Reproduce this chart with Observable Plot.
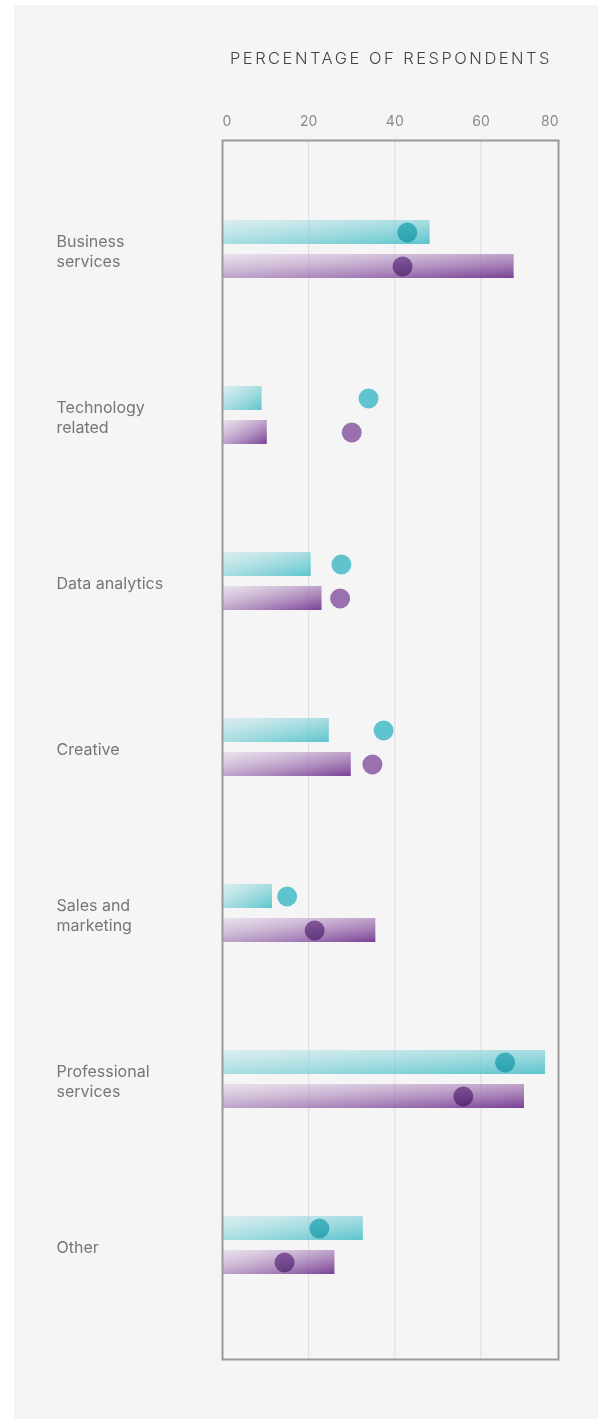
<!DOCTYPE html>
<html>
<head>
<meta charset="utf-8">
<script src="https://cdn.jsdelivr.net/npm/d3@7"></script>
<script src="https://cdn.jsdelivr.net/npm/@observablehq/plot@0.6"></script>
<style>
  html, body { margin: 0; padding: 0; background: #ffffff; }
  #panel { position: absolute; left: 14px; top: 5px; width: 584px; height: 1414px; background: #f5f5f5; }
  #title { position: absolute; left: 200px; width: 354px; top: 43px; text-align: center;
           font-family: "Inter", "Roboto", sans-serif; font-weight: 300; font-size: 16.5px;
           letter-spacing: 2.5px; color: #444; }
  #chart { position: absolute; left: 0; top: 73px; }
</style>
</head>
<body>
<div id="panel">
  <div id="title">PERCENTAGE OF RESPONDENTS</div>
  <div id="chart"></div>
</div>
<script>
const categories = ["Business services", "Technology related", "Data analytics", "Creative", "Sales and marketing", "Professional services", "Other"];
const categoryLabels = ["Business\nservices", "Technology\nrelated", "Data analytics", "Creative", "Sales and\nmarketing", "Professional\nservices", "Other"];
const tealBars   = [48.2, 9.2, 20.6, 24.8, 11.6, 75.0, 32.7];
const tealDots   = [42.9, 33.9, 27.6, 37.4, 15.0, 65.6, 22.5];
const purpleBars = [67.7, 10.4, 23.1, 29.9, 35.6, 70.1, 26.1];
const purpleDots = [41.8, 30.0, 27.3, 34.8, 21.4, 55.9, 14.4];
const tickValues = [0, 20, 40, 60, 80];
const gridValues = [20, 40, 60];
const xMax = 78;

const rows = categories.map((c, i) => ({
  category: c, label: categoryLabels[i],
  tealBar: tealBars[i], tealDot: tealDots[i],
  purpleBar: purpleBars[i], purpleDot: purpleDots[i]
}));

const font = "Inter, Roboto, sans-serif";
const tickX = d => Math.min(d, xMax);

const svg = Plot.plot({
  width: 584,
  height: 1332,
  marginTop: 62,
  marginBottom: 51,
  marginLeft: 208,
  marginRight: 40,
  style: { background: "transparent", fontFamily: font, overflow: "visible" },
  x: { domain: [0, xMax], axis: null },
  y: { domain: categories, type: "band", padding: 0, insetTop: 24, insetBottom: 28, axis: null },
  marks: [
    Plot.ruleX(gridValues, { stroke: "#dcdcdc", strokeWidth: 1 }),
    Plot.barX(rows, { x: "tealBar", y: "category", fill: "url(#tealGrad)", insetTop: 53, insetBottom: 89 }),
    Plot.barX(rows, { x: "purpleBar", y: "category", fill: "url(#purpleGrad)", insetTop: 87, insetBottom: 55 }),
    Plot.dot(rows, { x: "tealDot", y: "category", dy: -18, r: 10, fill: "#52c6d1", fillOpacity: 0.9, mixBlendMode: "multiply" }),
    Plot.dot(rows, { x: "purpleDot", y: "category", dy: 16, r: 10, fill: "#9163ab", fillOpacity: 0.88, mixBlendMode: "multiply" }),
    Plot.frame({ stroke: "#9a9a9a", strokeWidth: 2 }),
    Plot.text(rows, { y: "category", text: "label", frameAnchor: "left", dx: -166, textAnchor: "start",
                      fontSize: 16, fill: "#767676", lineHeight: 1.25, fontFamily: font }),
    Plot.text(tickValues.slice(0, 1), { x: tickX, text: d => String(d), frameAnchor: "top", dy: -24,
                      textAnchor: "start", fontSize: 14, fill: "#8a8a8a", fontFamily: font }),
    Plot.text(tickValues.slice(1, -1), { x: tickX, text: d => String(d), frameAnchor: "top", dy: -24,
                      textAnchor: "middle", fontSize: 14, fill: "#8a8a8a", fontFamily: font }),
    Plot.text(tickValues.slice(-1), { x: tickX, text: d => String(d), frameAnchor: "top", dy: -24,
                      textAnchor: "end", fontSize: 14, fill: "#8a8a8a", fontFamily: font })
  ]
});

const defs = d3.select(svg).insert("defs", ":first-child");
const tg = defs.append("linearGradient").attr("id", "tealGrad")
  .attr("x1", 0).attr("y1", 0).attr("x2", 1).attr("y2", 1);
tg.append("stop").attr("offset", "0%").attr("stop-color", "#a8dfe3").attr("stop-opacity", 0.35);
tg.append("stop").attr("offset", "100%").attr("stop-color", "#3fbcc6").attr("stop-opacity", 0.85);
const pg = defs.append("linearGradient").attr("id", "purpleGrad")
  .attr("x1", 0).attr("y1", 0).attr("x2", 1).attr("y2", 1);
pg.append("stop").attr("offset", "0%").attr("stop-color", "#d6c2dc").attr("stop-opacity", 0.4);
pg.append("stop").attr("offset", "100%").attr("stop-color", "#6e2f8c").attr("stop-opacity", 0.92);

document.getElementById("chart").appendChild(svg);
</script>
</body>
</html>
